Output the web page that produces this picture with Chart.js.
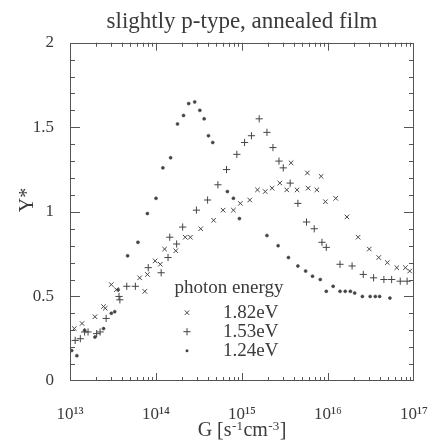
<!DOCTYPE html>
<html>
<head>
<meta charset="utf-8">
<script src="https://cdn.jsdelivr.net/npm/chart.js@4/dist/chart.umd.min.js"></script>
<style>
  html, body { margin: 0; padding: 0; background: #fff; }
  canvas { display: block; }
</style>
</head>
<body>
<canvas id="c" width="433" height="443"></canvas>
<script>
// Photoconductivity exponent vs. generation rate (log10 G), three photon energies
const logG_182 = [13.05,13.14,13.29,13.39,13.41,13.48,13.54,13.81,13.87,13.90,13.99,14.05,14.10,14.23,14.34,14.40,14.52,14.67,14.78,14.90,14.98,15.09,15.18,15.27,15.35,15.44,15.52,15.57,15.64,15.76,15.77,15.87,15.92,15.97,16.09,16.22,16.35,16.48,16.59,16.69,16.80,16.90,16.95];
const gam_182  = [0.31,0.34,0.38,0.44,0.43,0.57,0.54,0.61,0.53,0.63,0.71,0.69,0.78,0.77,0.85,0.85,0.90,0.95,1.01,1.01,1.05,1.07,1.13,1.12,1.14,1.17,1.13,1.29,1.13,1.23,1.14,1.13,1.21,1.06,1.08,0.97,0.85,0.78,0.73,0.70,0.67,0.67,0.65];

const logG_153 = [13.06,13.12,13.17,13.21,13.31,13.35,13.42,13.57,13.58,13.66,13.76,13.91,14.06,14.14,14.16,14.24,14.31,14.47,14.60,14.72,14.82,14.94,15.03,15.11,15.20,15.29,15.36,15.43,15.48,15.56,15.65,15.75,15.84,15.93,15.98,16.14,16.28,16.41,16.53,16.65,16.74,16.84,16.92];
const gam_153  = [0.24,0.25,0.29,0.29,0.28,0.29,0.37,0.50,0.48,0.56,0.56,0.67,0.64,0.73,0.85,0.81,0.91,1.01,1.07,1.16,1.25,1.34,1.41,1.45,1.55,1.47,1.38,1.30,1.26,1.17,1.05,0.94,0.90,0.82,0.79,0.69,0.68,0.63,0.61,0.60,0.60,0.59,0.59];

const logG_124 = [13.02,13.08,13.17,13.29,13.39,13.48,13.52,13.56,13.67,13.79,13.90,14.00,14.08,14.17,14.25,14.32,14.38,14.45,14.51,14.56,14.61,14.66,14.83,14.90,14.97,15.29,15.42,15.54,15.65,15.74,15.82,15.91,15.98,16.06,16.14,16.20,16.26,16.31,16.40,16.49,16.55,16.60,16.72];
const gam_124  = [0.18,0.15,0.30,0.26,0.31,0.40,0.41,0.54,0.74,0.82,0.99,1.08,1.26,1.32,1.52,1.57,1.64,1.65,1.60,1.55,1.45,1.41,1.12,1.08,0.96,0.86,0.80,0.73,0.68,0.65,0.62,0.60,0.53,0.56,0.53,0.53,0.53,0.52,0.50,0.50,0.50,0.50,0.49];

const seriesNames = ['1.82eV', '1.53eV', '1.24eV'];
const legendTitle = 'photon energy';
const chartTitle = 'slightly p-type, annealed film';
// x-axis title pieces: [text, superscript?]
const xTitleParts = [['G [s', false], ['-1', true], ['cm', false], ['-3', true], [']', false]];
const yTitle = 'Y*';

const xTickValues = [1e13, 1e14, 1e15, 1e16, 1e17];
const xTickLabels = ['10\u00B9\u00B3', '10\u00B9\u2074', '10\u00B9\u2075', '10\u00B9\u2076', '10\u00B9\u2077'];
const yTickValues = [0, 0.5, 1, 1.5, 2];
const yTickLabels = ['0', '0.5', '1', '1.5', '2'];

const INK = '#3a3a3a';
const MARK = '#444';
const SERIF = '"Liberation Serif", "Times New Roman", serif';

const toPoints = (lg, g) => lg.map((l, i) => ({ x: Math.pow(10, l), y: g[i] }));

// marker styles, shared by the plot and the legend
const markers = [
  { pointStyle: 'crossRot', radius: 3.2, borderWidth: 1 },
  { pointStyle: 'cross',    radius: 3.6, borderWidth: 1 },
  { pointStyle: 'circle',   radius: 1.5, borderWidth: 0.6 }
];

// box frame with inward major/minor ticks on all four sides
const frameTicks = {
  id: 'frameTicks',
  afterDatasetsDraw(chart) {
    const { ctx, chartArea: a, scales: { x, y } } = chart;
    ctx.save();
    ctx.strokeStyle = '#555';
    ctx.lineWidth = 1;
    ctx.strokeRect(Math.round(a.left) + 0.5, Math.round(a.top) + 0.5,
                   Math.round(a.right - a.left) - 1, Math.round(a.bottom - a.top) - 1);
    ctx.beginPath();
    for (let d = 13; d <= 16; d++) {
      for (let m = 1; m <= 9; m++) {
        if (d === 13 && m === 1) continue;
        const px = Math.round(x.getPixelForValue(m * Math.pow(10, d))) + 0.5;
        const len = m === 1 ? 8 : 4;
        ctx.moveTo(px, a.bottom); ctx.lineTo(px, a.bottom - len);
        ctx.moveTo(px, a.top);    ctx.lineTo(px, a.top + len);
      }
    }
    for (let k = 1; k < 20; k++) {
      const py = Math.round(y.getPixelForValue(k / 10)) + 0.5;
      const len = k % 5 === 0 ? 10 : 5;
      ctx.moveTo(a.left, py);  ctx.lineTo(a.left + len, py);
      ctx.moveTo(a.right, py); ctx.lineTo(a.right - len, py);
    }
    ctx.stroke();
    ctx.restore();
  }
};

function drawMarker(ctx, style, cx, cy) {
  ctx.beginPath();
  const r = style.radius;
  if (style.pointStyle === 'cross') {
    ctx.moveTo(cx - r, cy); ctx.lineTo(cx + r, cy);
    ctx.moveTo(cx, cy - r); ctx.lineTo(cx, cy + r);
    ctx.lineWidth = style.borderWidth; ctx.stroke();
  } else if (style.pointStyle === 'crossRot') {
    const o = r * Math.SQRT1_2;
    ctx.moveTo(cx - o, cy - o); ctx.lineTo(cx + o, cy + o);
    ctx.moveTo(cx - o, cy + o); ctx.lineTo(cx + o, cy - o);
    ctx.lineWidth = style.borderWidth; ctx.stroke();
  } else {
    ctx.arc(cx, cy, r, 0, Math.PI * 2);
    ctx.fill();
  }
}

// in-plot legend plus the axis titles
const annotations = {
  id: 'annotations',
  afterDraw(chart) {
    const { ctx, chartArea: a } = chart;
    ctx.save();
    ctx.fillStyle = INK;
    ctx.strokeStyle = MARK;
    ctx.font = '19px ' + SERIF;
    ctx.textBaseline = 'middle';
    ctx.textAlign = 'center';
    ctx.fillText(legendTitle, a.left + 159, a.top + 245);
    ctx.textAlign = 'left';
    seriesNames.forEach((name, i) => {
      const ry = a.top + 270 + i * 19;
      ctx.fillStyle = MARK;
      drawMarker(ctx, markers[i], a.left + 117, ry);
      ctx.fillStyle = INK;
      ctx.fillText(name, a.left + 153, ry);
    });

    // x-axis title with raised exponents
    const big = '20px ' + SERIF, small = '13px ' + SERIF;
    ctx.textBaseline = 'alphabetic';
    let total = 0;
    xTitleParts.forEach(([t, sup]) => { ctx.font = sup ? small : big; total += ctx.measureText(t).width + (sup ? 1 : 0); });
    let cx = (a.left + a.right) / 2 - total / 2;
    const base = 436;
    xTitleParts.forEach(([t, sup]) => {
      ctx.font = sup ? small : big;
      ctx.fillText(t, cx + (sup ? 0.5 : 0), sup ? base - 6 : base);
      cx += ctx.measureText(t).width + (sup ? 1 : 0);
    });

    // y-axis title, rotated
    ctx.translate(28, 200);
    ctx.rotate(-Math.PI / 2);
    ctx.font = '20px ' + SERIF;
    ctx.textAlign = 'center';
    ctx.textBaseline = 'middle';
    ctx.fillText(yTitle, 0, 0);
    ctx.restore();
  }
};

const datasets = [
  toPoints(logG_182, gam_182),
  toPoints(logG_153, gam_153),
  toPoints(logG_124, gam_124)
].map((pts, i) => ({
  label: seriesNames[i],
  data: pts,
  showLine: false,
  pointStyle: markers[i].pointStyle,
  pointRadius: markers[i].radius,
  pointBorderWidth: markers[i].borderWidth,
  pointBorderColor: MARK,
  pointBackgroundColor: MARK,
  pointHoverRadius: markers[i].radius
}));

new Chart(document.getElementById('c'), {
  type: 'scatter',
  data: { datasets },
  options: {
    responsive: false,
    animation: false,
    devicePixelRatio: 1,
    layout: { padding: { left: 0, right: 19, top: 0, bottom: 0 } },
    plugins: {
      legend: { display: false },
      tooltip: { enabled: false },
      title: {
        display: true,
        text: chartTitle,
        fullSize: false,
        color: INK,
        font: { family: SERIF, size: 23, weight: 'normal' },
        padding: { top: 8, bottom: 7.1 }
      }
    },
    scales: {
      x: {
        type: 'logarithmic',
        min: 1e13,
        max: 1e17,
        grid: { display: false },
        border: { display: false },
        afterBuildTicks: (s) => { s.ticks = xTickValues.map(v => ({ value: v })); },
        afterFit: (s) => { s.height = 62; s.paddingLeft = 0; s.paddingRight = 0; },
        ticks: {
          color: INK,
          padding: 15,
          maxRotation: 0,
          autoSkip: false,
          font: { family: SERIF, size: 17 },
          callback: (v, i) => xTickLabels[i]
        }
      },
      y: {
        min: 0,
        max: 2,
        grid: { display: false },
        border: { display: false },
        afterBuildTicks: (s) => { s.ticks = yTickValues.map(v => ({ value: v })); },
        afterFit: (s) => { s.width = 70; },
        ticks: {
          color: INK,
          padding: 8,
          autoSkip: false,
          font: { family: SERIF, size: 17 },
          callback: (v, i) => yTickLabels[i]
        }
      }
    }
  },
  plugins: [frameTicks, annotations]
});
</script>
</body>
</html>
